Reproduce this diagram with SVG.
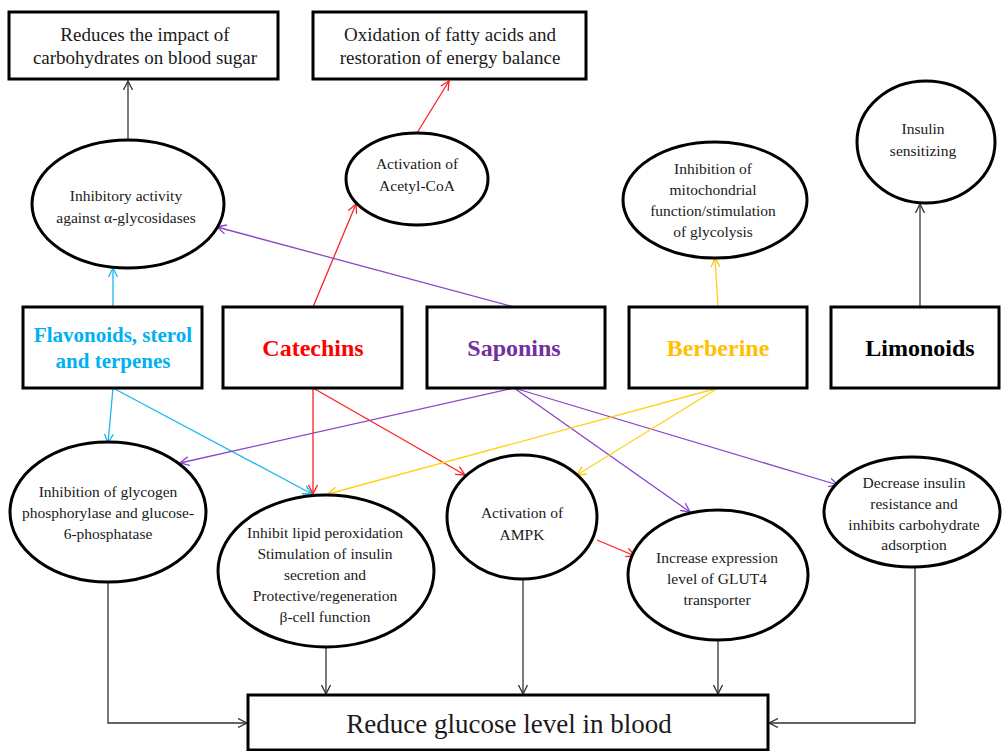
<svg xmlns="http://www.w3.org/2000/svg" width="1002" height="751" viewBox="0 0 1002 751">
<style>
.box{fill:#fff;stroke:#000;stroke-width:3}
.ell{fill:#fff;stroke:#000;stroke-width:3}
.t{font-family:"Liberation Serif","Times New Roman",serif;text-anchor:middle;fill:#1a1a1a}
.tb{font-size:19px}
.te{font-size:15.5px}
.th{font-family:"Liberation Serif","Times New Roman",serif;text-anchor:middle;font-weight:bold}
.c{fill:none;stroke-width:1.3}
.k{stroke:#333}
.r{stroke:#ff2020}
.cy{stroke:#1ab8f0}
.p{stroke:#8a45c8}
.y{stroke:#ffd21a}
</style>
<defs>
<marker id="ak" viewBox="0 0 10 10" refX="9" refY="5" markerWidth="10" markerHeight="10" markerUnits="userSpaceOnUse" orient="auto"><path d="M0,0.5 L9,5 L0,9.5" fill="none" stroke="#333" stroke-width="1.3"/></marker>
<marker id="ar" viewBox="0 0 10 10" refX="9" refY="5" markerWidth="10" markerHeight="10" markerUnits="userSpaceOnUse" orient="auto"><path d="M0,0.5 L9,5 L0,9.5" fill="none" stroke="#ff2020" stroke-width="1.3"/></marker>
<marker id="ac" viewBox="0 0 10 10" refX="9" refY="5" markerWidth="10" markerHeight="10" markerUnits="userSpaceOnUse" orient="auto"><path d="M0,0.5 L9,5 L0,9.5" fill="none" stroke="#1ab8f0" stroke-width="1.3"/></marker>
<marker id="ap" viewBox="0 0 10 10" refX="9" refY="5" markerWidth="10" markerHeight="10" markerUnits="userSpaceOnUse" orient="auto"><path d="M0,0.5 L9,5 L0,9.5" fill="none" stroke="#8a45c8" stroke-width="1.3"/></marker>
<marker id="ay" viewBox="0 0 10 10" refX="9" refY="5" markerWidth="10" markerHeight="10" markerUnits="userSpaceOnUse" orient="auto"><path d="M0,0.5 L9,5 L0,9.5" fill="none" stroke="#ffc400" stroke-width="1.3"/></marker>
</defs>
<rect width="1002" height="751" fill="#fff"/>

<g id="connectors">
<line class="c k" x1="128" y1="140" x2="128" y2="81" marker-end="url(#ak)"/>
<line class="c r" x1="417" y1="133" x2="449" y2="81" marker-end="url(#ar)"/>
<line class="c r" x1="313" y1="307" x2="356" y2="204" marker-end="url(#ar)"/>
<line class="c p" x1="514" y1="307" x2="217" y2="227" marker-end="url(#ap)"/>
<line class="c cy" x1="113" y1="307" x2="113" y2="268" marker-end="url(#ac)"/>
<line class="c y" x1="718" y1="307" x2="715" y2="258" marker-end="url(#ay)"/>
<line class="c k" x1="920" y1="307" x2="920" y2="204" marker-end="url(#ak)"/>
<line class="c cy" x1="113" y1="388" x2="108" y2="443" marker-end="url(#ac)"/>
<line class="c cy" x1="113" y1="388" x2="312" y2="494" marker-end="url(#ac)"/>
<line class="c r" x1="313" y1="388" x2="313" y2="494" marker-end="url(#ar)"/>
<line class="c r" x1="313" y1="388" x2="465" y2="475" marker-end="url(#ar)"/>
<line class="c p" x1="514" y1="388" x2="180" y2="463" marker-end="url(#ap)"/>
<line class="c p" x1="514" y1="388" x2="690" y2="512" marker-end="url(#ap)"/>
<line class="c p" x1="514" y1="388" x2="838" y2="485" marker-end="url(#ap)"/>
<line class="c y" x1="718" y1="388" x2="328" y2="494" marker-end="url(#ay)"/>
<line class="c y" x1="718" y1="388" x2="577" y2="475" marker-end="url(#ay)"/>
<line class="c r" x1="597" y1="540" x2="635" y2="556" marker-end="url(#ar)"/>
<polyline class="c k" points="108,583 108,723 247,723" marker-end="url(#ak)"/>
<line class="c k" x1="326" y1="647" x2="326" y2="694" marker-end="url(#ak)"/>
<line class="c k" x1="523" y1="579" x2="523" y2="694" marker-end="url(#ak)"/>
<line class="c k" x1="718" y1="640" x2="718" y2="694" marker-end="url(#ak)"/>
<polyline class="c k" points="915,567 915,723 769,723" marker-end="url(#ak)"/>
</g>

<g id="n-reduces">
<rect class="box" x="9" y="12" width="269" height="67"/>
<text class="t tb" x="145" y="41">Reduces the impact of</text>
<text class="t tb" x="145" y="64">carbohydrates on blood sugar</text>
</g>
<g id="n-oxidation">
<rect class="box" x="313" y="12" width="273" height="67"/>
<text class="t tb" x="450" y="41">Oxidation of fatty acids and</text>
<text class="t tb" x="450" y="64">restoration of energy balance</text>
</g>

<g id="n-glycosidases">
<ellipse class="ell" cx="128" cy="204" rx="96" ry="64"/>
<text class="t te" x="126" y="201">Inhibitory  activity</text>
<text class="t te" x="126" y="223">against  α-glycosidases</text>
</g>
<g id="n-acetyl">
<ellipse class="ell" cx="417" cy="179" rx="71" ry="46"/>
<text class="t te" x="417" y="169">Activation  of</text>
<text class="t te" x="417" y="191">Acetyl-CoA</text>
</g>
<g id="n-mito">
<ellipse class="ell" cx="715" cy="200" rx="92" ry="58"/>
<text class="t te" x="713" y="174">Inhibition  of</text>
<text class="t te" x="713" y="195">mitochondrial</text>
<text class="t te" x="713" y="216">function/stimulation</text>
<text class="t te" x="713" y="237">of glycolysis</text>
</g>
<g id="n-insulin">
<ellipse class="ell" cx="926" cy="142" rx="69" ry="61"/>
<text class="t te" x="923" y="134">Insulin</text>
<text class="t te" x="923" y="156">sensitizing</text>
</g>

<g id="n-flavonoids">
<rect class="box" x="23" y="307" width="179" height="81"/>
<text class="th" x="113" y="342" font-size="21" fill="#00b0f0">Flavonoids, sterol</text>
<text class="th" x="113" y="368" font-size="21" fill="#00b0f0">and terpenes</text>
</g>
<g id="n-catechins">
<rect class="box" x="223" y="307" width="179" height="81"/>
<text class="th" x="313" y="356" font-size="24" fill="#ff0000">Catechins</text>
</g>
<g id="n-saponins">
<rect class="box" x="427" y="307" width="178" height="81"/>
<text class="th" x="514" y="356" font-size="24" fill="#7030a0">Saponins</text>
</g>
<g id="n-berberine">
<rect class="box" x="629" y="307" width="178" height="81"/>
<text class="th" x="718" y="356" font-size="24" fill="#ffc000">Berberine</text>
</g>
<g id="n-limonoids">
<rect class="box" x="831" y="307" width="168" height="81"/>
<text class="th" x="920" y="356" font-size="24" fill="#000">Limonoids</text>
</g>

<g id="n-glycogen">
<ellipse class="ell" cx="108" cy="512" rx="98" ry="70"/>
<text class="t te" x="108" y="497">Inhibition  of glycogen</text>
<text class="t te" x="108" y="518">phosphorylase  and glucose-</text>
<text class="t te" x="108" y="539">6-phosphatase</text>
</g>
<g id="n-lipid">
<ellipse class="ell" cx="326" cy="571" rx="108" ry="76"/>
<text class="t te" x="325" y="538">Inhibit  lipid  peroxidation</text>
<text class="t te" x="325" y="559">Stimulation  of insulin</text>
<text class="t te" x="325" y="580">secretion  and</text>
<text class="t te" x="325" y="601">Protective/regeneration</text>
<text class="t te" x="325" y="622">β-cell  function</text>
</g>
<g id="n-ampk">
<ellipse class="ell" cx="522" cy="517" rx="75" ry="62"/>
<text class="t te" x="522" y="518">Activation  of</text>
<text class="t te" x="522" y="540">AMPK</text>
</g>
<g id="n-glut4">
<ellipse class="ell" cx="718" cy="575" rx="90" ry="65"/>
<text class="t te" x="717" y="563">Increase  expression</text>
<text class="t te" x="717" y="584">level  of GLUT4</text>
<text class="t te" x="717" y="605">transporter</text>
</g>
<g id="n-decrease">
<ellipse class="ell" cx="912" cy="512" rx="88" ry="55"/>
<text class="t te" x="914" y="488">Decrease  insulin</text>
<text class="t te" x="914" y="509">resistance  and</text>
<text class="t te" x="914" y="530">inhibits  carbohydrate</text>
<text class="t te" x="914" y="550">adsorption</text>
</g>

<g id="n-reduce-glucose">
<rect class="box" x="248" y="695" width="520" height="55"/>
<text class="t" x="509" y="733" font-size="27">Reduce glucose level in blood</text>
</g>
</svg>
